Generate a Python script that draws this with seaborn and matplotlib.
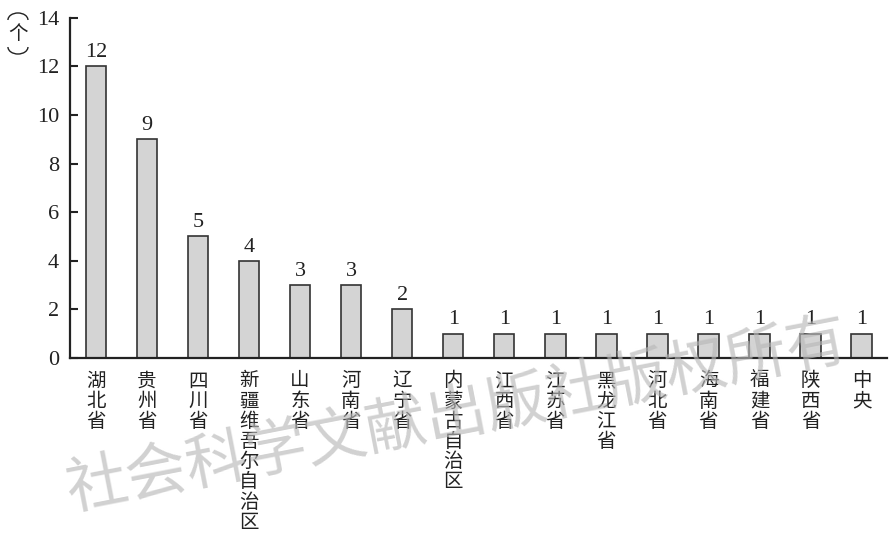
import numpy as np
import matplotlib
matplotlib.use("Agg")
import matplotlib.pyplot as plt
from matplotlib.patches import Arc
import seaborn as sns

# data
regions = ['湖北省', '贵州省', '四川省', '新疆维吾尔自治区', '山东省', '河南省', '辽宁省',
           '内蒙古自治区', '江西省', '江苏省', '黑龙江省', '河北省', '海南省', '福建省',
           '陕西省', '中央']
counts = [12, 9, 5, 4, 3, 3, 2, 1, 1, 1, 1, 1, 1, 1, 1, 1]
yticks = [0, 2, 4, 6, 8, 10, 12, 14]

sns.set_theme(style='white')
plt.rcParams['font.family'] = ['Liberation Serif', 'Noto Sans CJK SC', 'DejaVu Sans']
cjk = ['Noto Sans CJK SC', 'DejaVu Sans']

fig = plt.figure(figsize=(8.89, 5.39), dpi=100)
ax = fig.add_axes([0.079, 0.336, 0.919, 0.631])

sns.barplot(x=regions, y=counts, color='#d4d4d4', saturation=1, edgecolor='#333333',
            linewidth=1.2, width=0.4, ax=ax)
ax.bar_label(ax.containers[0], labels=[str(v) for v in counts], padding=3, fontsize=16,
             color='#222222')

ax.set_xlim(-0.5, len(regions) - 0.5)
ax.set_ylim(0, 14)
ax.set_yticks(yticks)
ax.set_yticklabels([str(t) for t in yticks], fontsize=16, color='#222222')

# vertical category labels
ax.set_xticks(range(len(regions)))
ax.set_xticklabels(['\n'.join(r) for r in regions], fontsize=14, linespacing=0.95,
                   family=cjk, color='#222222', va='top')
ax.tick_params(axis='x', which='major', length=0, pad=9)
ax.set_xticks(np.arange(0.5, len(regions), 1), minor=True)
ax.tick_params(axis='x', which='minor', direction='in', length=6, width=1.5, color='#222222')
ax.tick_params(axis='y', direction='in', length=6, width=1.5, color='#222222', pad=8, left=True)

for s in ['top', 'right']:
    ax.spines[s].set_visible(False)
for s in ['left', 'bottom']:
    ax.spines[s].set_linewidth(1.6)
    ax.spines[s].set_color('#222222')

ax.set_xlabel('')
ax.set_ylabel('')

# unit label (vertical "（个）")
fig.add_artist(Arc((0.0202, 0.9629), 0.0225, 0.026, theta1=0, theta2=180,
                   transform=fig.transFigure, color='#222222', lw=1))
fig.text(0.0202, 0.937, '个', fontsize=14, ha='center', va='center', family=cjk, color='#222222')
fig.add_artist(Arc((0.0202, 0.9128), 0.0225, 0.026, theta1=180, theta2=360,
                   transform=fig.transFigure, color='#222222', lw=1))

# watermark
fig.text(0.514, 0.226, '社会科学文献出版社版权所有', fontsize=44, color='#b8b8b8', alpha=0.65,
         rotation=11, ha='center', va='center', family=cjk, fontweight='light', zorder=0)

fig.savefig('out.png', dpi=100)
